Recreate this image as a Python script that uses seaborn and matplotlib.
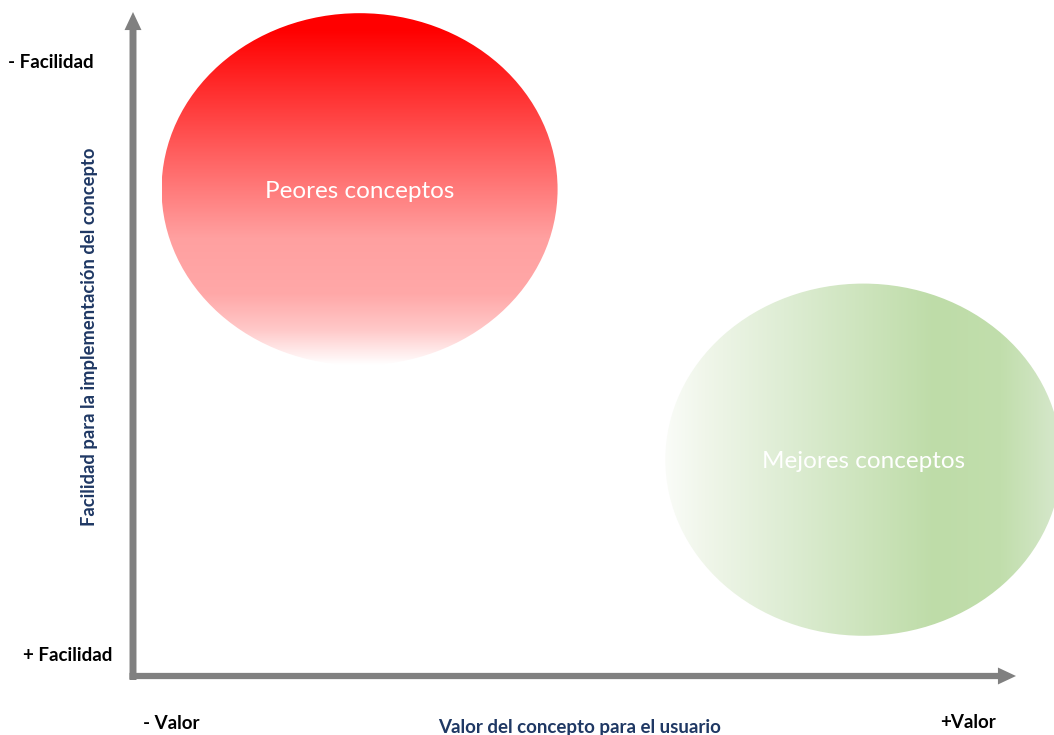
import numpy as np
import matplotlib
matplotlib.use("Agg")
import matplotlib.pyplot as plt
from matplotlib.patches import Ellipse
import seaborn as sns

# Concept groups placed on the value / ease-of-implementation map
conceptos = ["Peores conceptos", "Mejores conceptos"]
valor = [24.6, 79.3]        # value for the user (0 = low, 100 = high)
facilidad = [28.0, 68.0]    # ease of implementation (0 = low at top, 100 = high at bottom)

# Axis end labels
extremos_y = ["- Facilidad", "+ Facilidad"]
extremos_x = ["- Valor", "+Valor"]
titulo_x = "Valor del concepto para el usuario"
titulo_y = "Facilidad para la implementación del concepto"

sns.set_theme(style="white")
plt.rcParams["font.family"] = ["Lato", "DejaVu Sans"]

W, H = 1054, 735
fig = plt.figure(figsize=(W / 100, H / 100), dpi=100)
fig.patch.set_facecolor("white")

# Plot area: from the axes origin to the top-right corner of the figure
ax = fig.add_axes([133 / W, 59 / H, 1 - 133 / W, 1 - 59 / H])
ax.set_facecolor("none")
ax.set_xticks([])
ax.set_yticks([])
sns.despine(ax=ax, left=True, bottom=True)

ANCHO, ALTO = 43.0, 52.1
NAVY = "#1F3864"


def gradiente(stops, n=400):
    pos = np.array([s[0] for s in stops])
    cols = np.array([s[1:] for s in stops], dtype=float) / 255.0
    t = np.linspace(0, 1, n)
    return np.stack([np.interp(t, pos, cols[:, k]) for k in range(3)], axis=-1)


# red: vertical fade from solid red to pale pink and white
rojo = gradiente([(0.0, 255, 0, 0), (0.05, 255, 0, 0), (0.64, 255, 160, 160),
                  (0.80, 255, 168, 168), (0.90, 255, 200, 200), (1.0, 255, 255, 255)])
img_rojo = np.repeat(rojo[:, None, :], 4, axis=1)

# green: horizontal fade from almost white to soft green
verde = gradiente([(0.0, 250, 252, 248), (0.1, 240, 246, 234), (0.3, 222, 237, 212),
                   (0.68, 190, 220, 168), (0.85, 193, 222, 172), (1.0, 215, 232, 205)])
img_verde = np.repeat(verde[None, :, :], 4, axis=0)

for nombre, vx, fy, img in zip(conceptos, valor, facilidad, [img_rojo, img_verde]):
    elipse = Ellipse((vx, fy), ANCHO, ALTO, facecolor="none", edgecolor="none")
    ax.add_patch(elipse)
    im = ax.imshow(img, extent=(vx - ANCHO / 2, vx + ANCHO / 2, fy + ALTO / 2, fy - ALTO / 2),
                   origin="upper", aspect="auto", interpolation="bilinear", zorder=1)
    im.set_clip_path(elipse)
    ax.text(vx, fy + 0.3, nombre, ha="center", va="center", color="white", fontsize=17.5, zorder=3)

ax.set_xlim(0, 100)
ax.set_ylim(100, 0)

# Axis arrows
flecha = dict(arrowstyle="simple,head_length=1.3,head_width=1.22,tail_width=0.5",
              color="#808080", lw=0, shrinkA=0, shrinkB=0, mutation_scale=10)
ax.annotate("", xy=(133, 723), xytext=(133, 55), xycoords="figure pixels",
            textcoords="figure pixels", arrowprops=flecha)
flecha_h = dict(flecha, arrowstyle="simple,head_length=1.3,head_width=1.22,tail_width=0.45")
ax.annotate("", xy=(1016, 59), xytext=(129.5, 59), xycoords="figure pixels",
            textcoords="figure pixels", arrowprops=flecha_h)

# End labels
fs = 13.5
fig.text(8 / W, (H - 68) / H, extremos_y[0], ha="left", va="baseline",
         fontsize=fs, fontweight="bold", color="black")
fig.text(23 / W, (H - 661) / H, extremos_y[1], ha="left", va="baseline",
         fontsize=fs, fontweight="bold", color="black")
fig.text(143 / W, (H - 729) / H, extremos_x[0], ha="left", va="baseline",
         fontsize=fs, fontweight="bold", color="black")
fig.text(940 / W, (H - 728) / H, extremos_x[1], ha="left", va="baseline",
         fontsize=fs, fontweight="bold", color="black")

# Axis titles
fig.text(580 / W, (H - 733) / H, titulo_x, ha="center", va="baseline",
         fontsize=fs, fontweight="bold", color=NAVY)
fig.text(90 / W, (H - 337) / H, titulo_y, ha="center", va="center", rotation=90,
         fontsize=13.2, fontweight="bold", color=NAVY)

fig.savefig("out.png", dpi=100, facecolor="white")
